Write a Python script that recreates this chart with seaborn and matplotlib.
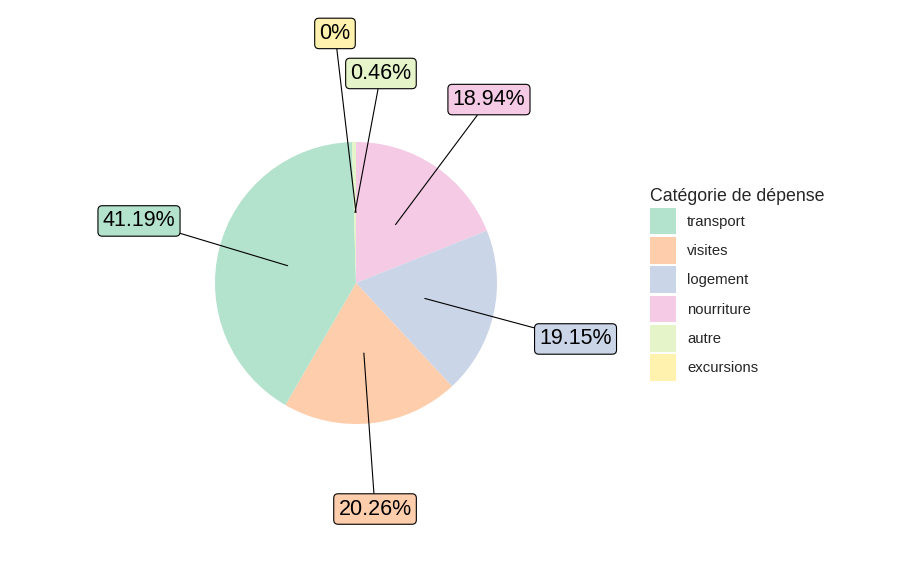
import numpy as np
import pandas as pd
import seaborn as sns
import matplotlib.pyplot as plt
from matplotlib.patches import Patch

# legend / factor order
categories = ['transport', 'visites', 'logement', 'nourriture', 'autre', 'excursions']
# order of slices going clockwise from 12 o'clock
slice_order = ['nourriture', 'logement', 'visites', 'transport', 'autre', 'excursions']
shares = [18.94, 19.15, 20.26, 41.19, 0.46, 0.0]
labels = ['18.94%', '19.15%', '20.26%', '41.19%', '0.46%', '0%']

# where the repelled label boxes end up (in pie-radius units)
label_pos = {
    'nourriture': (0.943, 1.301),
    'logement': (1.557, -0.397),
    'visites': (0.135, -1.603),
    'transport': (-1.539, 0.440),
    'autre': (0.177, 1.486),
    'excursions': (-0.149, 1.770),
}

sns.set_theme(style='white')
plt.rcParams['font.family'] = ['Liberation Sans', 'DejaVu Sans']

palette = dict(zip(categories, sns.color_palette('Pastel2', len(categories))))

df = pd.DataFrame({'categorie': slice_order, 'part': shares, 'label': labels})

fig = plt.figure(figsize=(9, 5.66), dpi=100)
ax = fig.add_axes([0, 0, 1, 1])

ax.pie(df['part'], colors=[palette[c] for c in df['categorie']],
       startangle=90, counterclock=False, radius=1,
       wedgeprops=dict(linewidth=0))

# label boxes with leader lines from the middle of each slice
frac = df['part'] / df['part'].sum()
mid = frac.cumsum() - frac / 2
for i, row in df.iterrows():
    ang = np.deg2rad(90 - 360 * mid[i])
    start = (0.5 * np.cos(ang), 0.5 * np.sin(ang))
    ax.annotate(row['label'], xy=start, xytext=label_pos[row['categorie']],
                ha='center', va='center', fontsize=15.5, color='black',
                bbox=dict(boxstyle='round,pad=0.22,rounding_size=0.2',
                          fc=palette[row['categorie']], ec='black', lw=0.8),
                arrowprops=dict(arrowstyle='-', color='black', lw=0.8,
                                shrinkA=0, shrinkB=0))

px = 141.0
ax.set_xlim(-356 / px, (900 - 356) / px)
ax.set_ylim(-(566 - 283) / px, 283 / px)
ax.set_aspect('auto')
ax.axis('off')

handles = [Patch(facecolor=palette[c], edgecolor='none', label=c) for c in categories]
fig.legend(handles=handles, title='Catégorie de dépense', loc='upper left',
           bbox_to_anchor=(650 / 900, 1 - 188 / 566), frameon=False,
           fontsize=10.7, title_fontsize=12.8, alignment='left',
           handlelength=1.75, handleheight=2.4, labelspacing=0.17,
           handletextpad=0.75, borderpad=0, borderaxespad=0)

fig.savefig('out.png', dpi=100)
